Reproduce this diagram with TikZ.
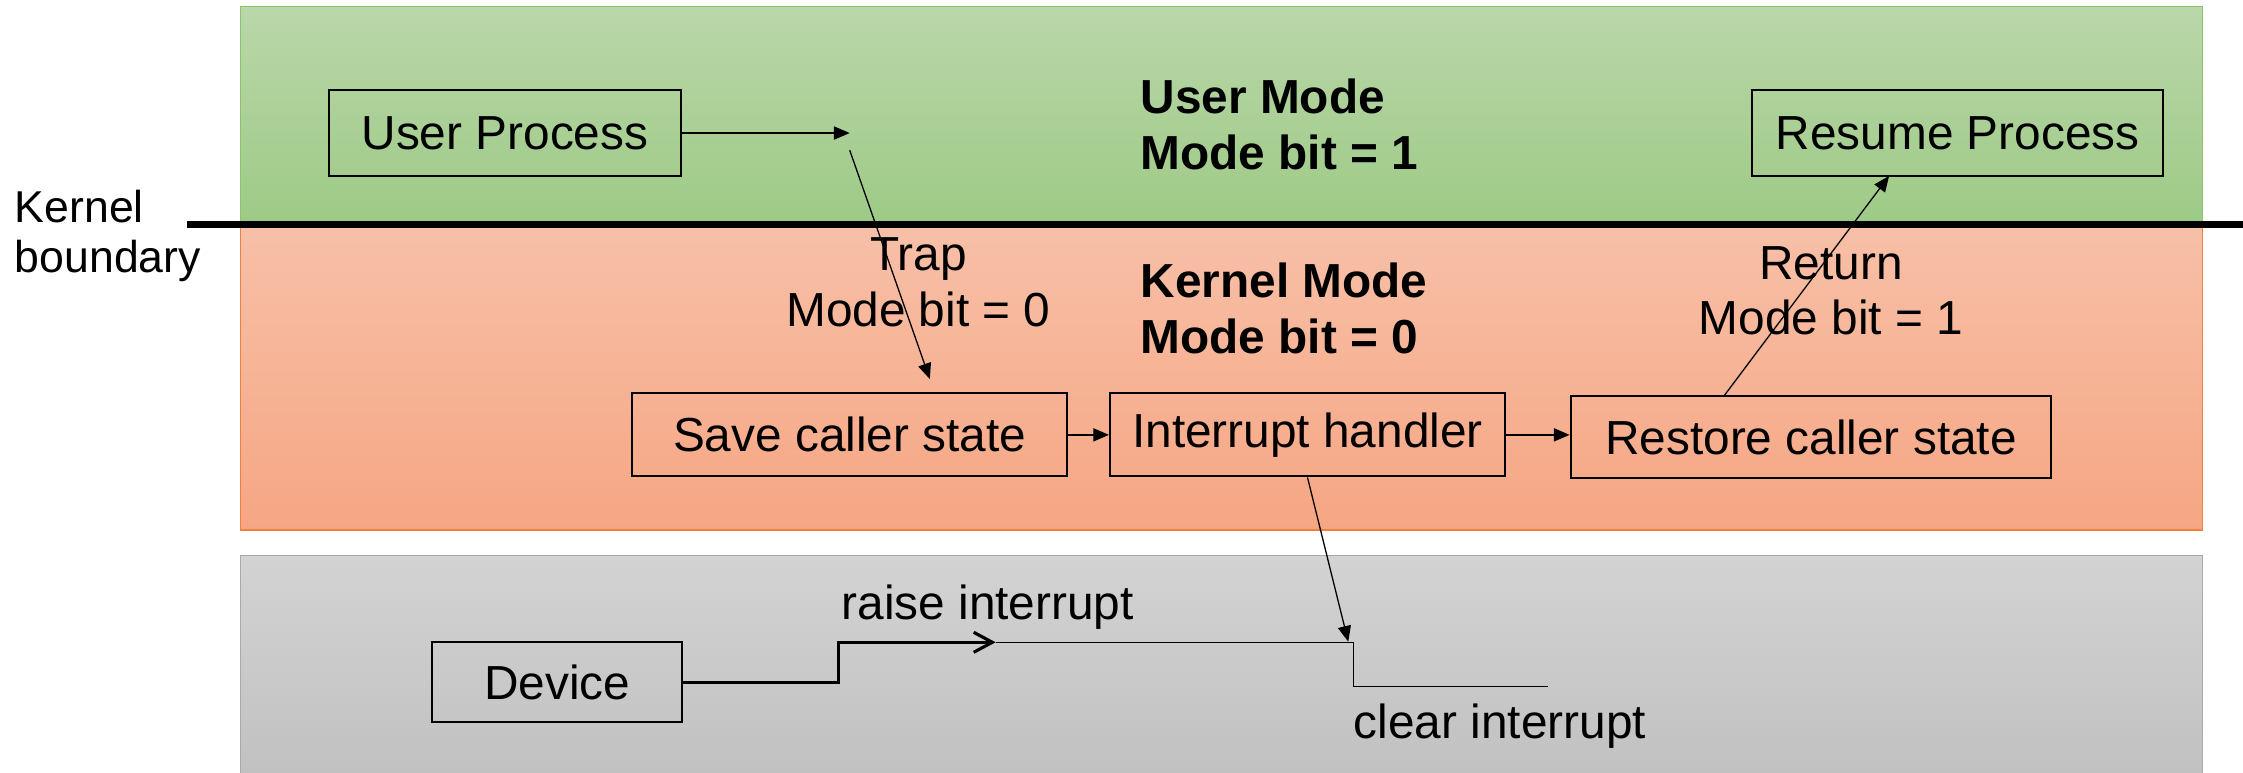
\documentclass[tikz,border=0pt]{standalone}
\usepackage{fontspec}
\setmainfont{Liberation Sans}
\usetikzlibrary{arrows.meta}
\definecolor{gtop}{RGB}{186,215,169}
\definecolor{gbot}{RGB}{157,202,134}
\definecolor{gline}{RGB}{140,195,110}
\definecolor{otop}{RGB}{247,192,168}
\definecolor{obot}{RGB}{246,166,131}
\definecolor{oline}{RGB}{240,128,60}
\definecolor{ytop}{RGB}{211,211,211}
\definecolor{ybot}{RGB}{192,192,192}
\definecolor{yline}{RGB}{170,170,170}
\begin{document}
\begin{tikzpicture}[x=0.5pt,y=-0.5pt,
  every node/.style={font=\fontsize{16.7}{19.5}\selectfont},
  box/.style={draw=black,line width=0.75pt,inner sep=0pt},
  lbl/.style={inner sep=0pt},
  boldlbl/.style={inner sep=0pt,align=left,font=\bfseries\fontsize{16.7}{19.5}\selectfont},
  conn/.style={draw=black,line width=0.45pt,-{Triangle[length=5.5pt,width=4.6pt]}},
  wire/.style={draw=black,line width=0.45pt},
  thickwire/.style={draw=black,line width=1.1pt},
  region/.style={line width=0.5pt}
]
\useasboundingbox (0,0) rectangle (1568,539.7);

% regions
\path[region,draw=gline,top color=gtop,bottom color=gbot] (168,4.7) rectangle (1539.5,157);
\path[region,draw=oline,top color=otop,bottom color=obot] (168,157) rectangle (1539.5,370.5);
\path[region,draw=yline,top color=ytop,bottom color=ybot] (168,388.5) rectangle (1539.5,548);

% kernel boundary
\draw[line width=2.7pt] (131,157) -- (1568,157);
\node[lbl,anchor=north west,align=left,font=\fontsize{15.6}{17.5}\selectfont] (kb) at (10,132.8) {Kernel\\boundary};

% mode labels
\node[boldlbl,anchor=north west] (um) at (797,55) {User Mode\\Mode bit = 1};
\node[boldlbl,anchor=north west] (km) at (797,183.7) {Kernel Mode\\Mode bit = 0};

% boxes
\node[box,minimum width=123pt,minimum height=30pt] (up) at (353,93) {User Process};
\node[box,minimum width=143.5pt,minimum height=30pt] (rp) at (1368.5,93) {Resume Process};
\node[box,minimum width=152pt,minimum height=29pt] (save) at (594,304) {Save caller state};
\node[box,minimum width=138pt,minimum height=29pt] (ih) at (914,304) {Interrupt handler};
\node[box,minimum width=168pt,minimum height=28.5pt] (rest) at (1266,305.5) {Restore caller state};
\node[box,minimum width=87.5pt,minimum height=28pt] (dev) at (389.5,477) {Device};

% coordinates
\coordinate (trapA) at (594,93);
\coordinate (trapB) at (594,105);
\coordinate (trapC) at (650,265);
\coordinate (retA) at (1205,277);
\coordinate (retB) at (1320.6,123);
\coordinate (irqA) at (942.5,448.6);
\coordinate (step1) at (586,477);
\coordinate (step2) at (586,449);
\coordinate (raiseEnd) at (696,449);
\coordinate (clr1) at (946,449);
\coordinate (clr2) at (946,480);
\coordinate (clr3) at (1082,480);

% connectors
\draw[conn] (up.east) -- (trapA);
\draw[conn] (trapB) -- (trapC);
\node[lbl,anchor=north,align=center] (trap) at (642,166) {Trap\\Mode bit = 0};
\draw[conn] (save.east) -- (ih.west);
\draw[conn] (ih.east) -- (ih.east -| rest.west);
\draw[conn] (retA) -- (retB);
\node[lbl,anchor=north,align=center] (ret) at (1280,171.7) {Return\\Mode bit = 1};
\draw[conn] (ih.south) -- (irqA);

\draw[thickwire,-{Straight Barb[length=6.5pt,width=7pt]}] (dev.east) -- (step1) -- (step2) -- (raiseEnd);
\draw[wire] (raiseEnd) -- (clr1) -- (clr2) -- (clr3);
\node[lbl,anchor=base west] (raise) at (588,433) {raise interrupt};
\node[lbl,anchor=base west] (clear) at (946,516) {clear interrupt};
\end{tikzpicture}
\end{document}
